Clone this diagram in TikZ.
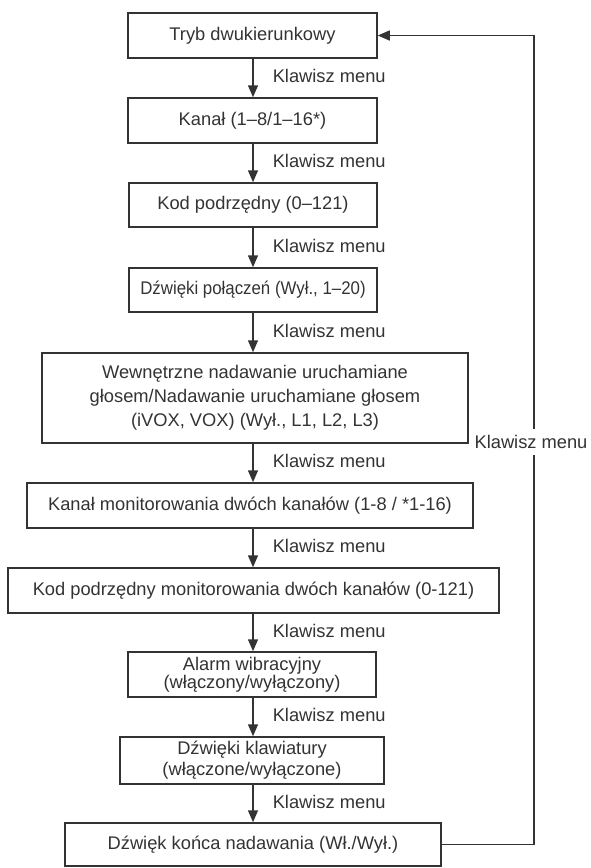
\documentclass[tikz,border=0pt]{standalone}
\usepackage{fontspec}
\setmainfont{Liberation Sans}
\newfontfamily\narrowfont[FakeStretch=0.92]{Liberation Sans}
\usetikzlibrary{arrows.meta}
\definecolor{ink}{HTML}{333333}
\tikzset{
  box/.style={draw=ink, line width=1.5pt, inner sep=0pt, align=center, text=ink,
    font=\fontsize{18.3}{22}\selectfont},
  flow/.style={draw=ink, line width=1.5pt, -{Triangle[length=12pt,width=10pt]}},
  lbl/.style={text=ink, font=\fontsize{18.3}{22}\selectfont, anchor=west, inner sep=0pt},
}
\begin{document}
\begin{tikzpicture}[x=1pt,y=-1pt]
\useasboundingbox (0,0) rectangle (590,868);
\node[box, minimum width=249pt, minimum height=45pt] (b1) at (252.5,35.5) {Tryb dwukierunkowy};
\node[box, minimum width=249pt, minimum height=45pt] (b2) at (252.5,120.5) {Kanał (1–8/1–16*)};
\node[box, minimum width=248pt, minimum height=44pt] (b3) at (253,205) {Kod podrzędny (0–121)};
\node[box, minimum width=248pt, minimum height=44pt, font=\narrowfont\fontsize{18.3}{22}\selectfont] (b4) at (253,290) {Dźwięki połączeń (Wył., 1–20)};
\node[box, minimum width=426pt, minimum height=90pt, font=\fontsize{18.3}{24}\selectfont] (b5) at (255,398)
  {Wewnętrzne nadawanie uruchamiane\\głosem/Nadawanie uruchamiane głosem\\(iVOX, VOX) (Wył., L1, L2, L3)};
\node[box, minimum width=446pt, minimum height=45pt] (b6) at (250,505.5) {Kanał monitorowania dwóch kanałów (1-8 / *1-16)};
\node[box, minimum width=491pt, minimum height=45pt] (b7) at (253.5,590.5) {Kod podrzędny monitorowania dwóch kanałów (0-121)};
\node[box, minimum width=248pt, minimum height=45pt, font=\fontsize{18.3}{18}\selectfont] (b9) at (252,674.5)
  {Alarm wibracyjny\\(włączony/wyłączony)};
\node[box, minimum width=264pt, minimum height=47pt, font=\fontsize{18.3}{21}\selectfont] (b10) at (252,760.5)
  {Dźwięki klawiatury\\(włączone/wyłączone)};
\node[box, minimum width=376pt, minimum height=43pt] (b11) at (253,844.5) {Dźwięk końca nadawania (Wł./Wył.)};
\coordinate (ax) at (253,0);
\foreach \a/\b in {b1/b2,b2/b3,b3/b4,b4/b5,b5/b6,b6/b7,b7/b9,b9/b10,b10/b11}
  \draw[flow] (\a.south -| ax) -- (\b.north -| ax) node[lbl, midway, xshift=19pt, yshift=2pt] {Klawisz menu};
\coordinate (rc) at (534,0);
\draw[flow] (b11.east) -- (b11.east -| rc) -- (b1.east -| rc) -- (b1.east);
\node[fill=white, text=ink, font=\fontsize{18.3}{22}\selectfont, inner xsep=0pt, inner ysep=6pt] (rl) at (531,442) {Klawisz menu};
\end{tikzpicture}
\end{document}
